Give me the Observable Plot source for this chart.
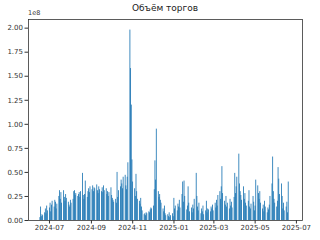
<!DOCTYPE html>
<html><head><meta charset="utf-8">
<script src="https://cdn.jsdelivr.net/npm/d3@7"></script>
<script src="https://cdn.jsdelivr.net/npm/@observablehq/plot@0.6"></script>
<style>
body{margin:0;background:#fff;}
#wrap{position:relative;width:320px;height:240px;font-family:"DejaVu Sans",sans-serif;}
#title{position:absolute;left:28px;width:274px;top:3px;text-align:center;font-size:9px;color:#222;}
#exp{position:absolute;left:28px;top:9px;font-size:6.5px;color:#333;}
#chart{position:absolute;left:0;top:0;}
</style></head><body>
<div id="wrap"><div id="chart"></div><div id="title">Объём торгов</div><div id="exp">1e8</div></div>
<script>
const startMonday = "2024-06-17";
// weekly trading volume, units of 1e8 (Mon..Fri)
const weeks = [
[0.03,0.14,0.04,0.06,0.05],
[0.08,0.12,0.07,0.15,0.10],
[0.13,0.18,0.09,0.16,0.20],
[0.14,0.21,0.19,0.12,0.17],
[0.25,0.31,0.22,0.29,0.18],
[0.31,0.24,0.20,0.27,0.23],
[0.19,0.16,0.14,0.21,0.18],
[0.22,0.30,0.31,0.26,0.28],
[0.25,0.27,0.29,0.24,0.30],
[0.49,0.26,0.22,0.27,0.41],
[0.24,0.30,0.33,0.29,0.35],
[0.32,0.36,0.30,0.34,0.33],
[0.37,0.31,0.28,0.35,0.32],
[0.30,0.34,0.29,0.36,0.31],
[0.33,0.27,0.30,0.25,0.29],
[0.34,0.26,0.23,0.21,0.19],
[0.22,0.18,0.50,0.24,0.31],
[0.35,0.42,0.38,0.33,0.45],
[0.47,0.36,0.32,0.45,0.60],
[1.98,1.58,1.20,0.63,0.40],
[0.33,0.25,0.48,0.30,0.22],
[0.20,0.17,0.23,0.14,0.10],
[0.06,0.07,0.05,0.08,0.07],
[0.09,0.08,0.11,0.13,0.12],
[0.15,0.32,0.62,0.42,0.95],
[0.30,0.24,0.27,0.21,0.18],
[0.12,0.09,0.15,0.07,0.05],
[0.06,0.04,0.08,0.03,0.05],
[0.07,0.04,0.23,0.12,0.15],
[0.10,0.17,0.14,0.21,0.13],
[0.27,0.40,0.19,0.41,0.25],
[0.11,0.15,0.35,0.18,0.09],
[0.13,0.08,0.16,0.12,0.22],
[0.49,0.25,0.14,0.10,0.18],
[0.07,0.12,0.09,0.15,0.06],
[0.10,0.20,0.08,0.12,0.11],
[0.09,0.14,0.12,0.16,0.10],
[0.18,0.13,0.21,0.15,0.26],
[0.30,0.22,0.35,0.56,0.28],
[0.20,0.16,0.25,0.14,0.18],
[0.12,0.22,0.15,0.19,0.13],
[0.24,0.49,0.28,0.35,0.45],
[0.69,0.38,0.30,0.26,0.21],
[0.35,0.22,0.28,0.18,0.15],
[0.20,0.31,0.14,0.12,0.17],
[0.25,0.19,0.10,0.15,0.42],
[0.36,0.28,0.22,0.30,0.18],
[0.12,0.16,0.09,0.20,0.14],
[0.08,0.13,0.11,0.16,0.25],
[0.38,0.66,0.30,0.22,0.18],
[0.14,0.20,0.55,0.43,0.27],
[0.38,0.25,0.12,0.18,0.10],
[0.14,0.19,0.08,0.40]
];
const xTicks = ["2024-07-01","2024-09-01","2024-11-01","2025-01-01","2025-03-01","2025-05-01","2025-07-01"];
const yTicks = [0,0.25,0.5,0.75,1.0,1.25,1.5,1.75,2.0];

const base = new Date(startMonday + "T00:00:00Z");
const data = [];
weeks.forEach((w, wi) => w.forEach((v, di) => {
  const d = new Date(base.getTime() + (wi*7 + di)*864e5);
  data.push({date: d, volume: v});
}));

const chart = Plot.plot({
  width: 320, height: 240,
  marginLeft: 28, marginRight: 18, marginTop: 19, marginBottom: 20,
  style: {fontFamily: "DejaVu Sans, sans-serif", fontSize: "7px", color: "#333", background: "white"},
  x: {type: "utc", domain: [new Date("2024-05-31T00:00:00Z"), new Date("2025-07-10T00:00:00Z")],
      ticks: xTicks.map(t => new Date(t + "T00:00:00Z")), tickFormat: d3.utcFormat("%Y-%m"), label: null, tickSize: 3.5, tickPadding: 1.5},
  y: {domain: [0, 2.09], ticks: yTicks, tickFormat: d => d.toFixed(2), label: null, tickSize: 3.5, tickPadding: 2},
  marks: [
    Plot.rectY(data, {x1: "date", x2: d => new Date(d.date.getTime() + 1.25*864e5), y: "volume", fill: "#1f77b4", insetLeft: 0, insetRight: 0}),
    Plot.frame({stroke: "#333", strokeWidth: 0.8})
  ]
});
document.getElementById("chart").appendChild(chart);
</script>
</body></html>
